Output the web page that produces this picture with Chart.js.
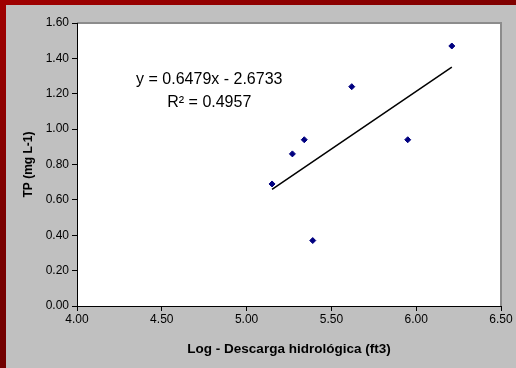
<!DOCTYPE html>
<html>
<head>
<meta charset="utf-8">
<script src="https://cdn.jsdelivr.net/npm/chart.js@4/dist/chart.umd.min.js"></script>
<style>
  html, body { margin: 0; padding: 0; }
  body {
    width: 516px; height: 368px; overflow: hidden;
    background: linear-gradient(160deg, #a00000 0%, #7a0000 40%, #680000 100%);
  }
  #painel {
    position: absolute; left: 6px; top: 5px;
    width: 510px; height: 363px;
    background: #c0c0c0;
  }
</style>
</head>
<body>
<div id="painel"><canvas id="grafico-tp"></canvas></div>
<script>
// dados
const descargaLog = [5.15, 5.27, 5.34, 5.39, 5.62, 5.95, 6.21];
const tpValores = [0.69, 0.86, 0.94, 0.37, 1.24, 0.94, 1.47];

// linha de tendência (pontos extremos)
const tendenciaX = [5.15, 6.21];
const tendenciaY = [0.66, 1.35];

// eixos
const ticksX = [4.0, 4.5, 5.0, 5.5, 6.0, 6.5];
const ticksY = [0.0, 0.2, 0.4, 0.6, 0.8, 1.0, 1.2, 1.4, 1.6];

const tituloX = 'Log - Descarga hidrológica (ft3)';
const tituloY = 'TP (mg L-1)';
const equacao = 'y = 0.6479x - 2.6733';
const r2Texto = 'R² = 0.4957';

const fonte = '"Liberation Sans", Arial, sans-serif';

// fundo branco da área do gráfico + borda cinza em cima/direita
const fundoArea = {
    id: 'fundoArea',
    beforeDraw(chart) {
        const { ctx, chartArea: a } = chart;
        ctx.save();
        ctx.fillStyle = '#ffffff';
        ctx.fillRect(a.left, a.top, a.right - a.left, a.bottom - a.top);
        ctx.strokeStyle = '#8c8c8c';
        ctx.lineWidth = 2;
        ctx.beginPath();
        ctx.moveTo(a.left, a.top);
        ctx.lineTo(a.right, a.top);
        ctx.lineTo(a.right, a.bottom);
        ctx.stroke();
        ctx.restore();
    }
};

// texto da equação
const textoEquacao = {
    id: 'textoEquacao',
    afterDatasetsDraw(chart) {
        const { ctx, scales } = chart;
        const x = scales.x.getPixelForValue(4.78);
        ctx.save();
        ctx.fillStyle = '#000';
        ctx.font = '16px ' + fonte;
        ctx.textAlign = 'center';
        ctx.textBaseline = 'middle';
        ctx.fillText(equacao, x, scales.y.getPixelForValue(1.28));
        ctx.fillText(r2Texto, x, scales.y.getPixelForValue(1.15));
        ctx.restore();
    }
};

const ctx = document.getElementById('grafico-tp').getContext('2d');

new Chart(ctx, {
    type: 'scatter',
    data: {
        datasets: [{
            data: descargaLog.map((x, i) => ({ x: x, y: tpValores[i] })),
            pointStyle: 'rectRot',
            pointRadius: 3,
            backgroundColor: '#000080',
            borderColor: '#000080',
            borderWidth: 1
        }, {
            type: 'line',
            data: tendenciaX.map((x, i) => ({ x: x, y: tendenciaY[i] })),
            borderColor: '#000000',
            borderWidth: 1.5,
            pointRadius: 0,
            fill: false
        }]
    },
    options: {
        responsive: true,
        maintainAspectRatio: false,
        animation: false,
        layout: { padding: { left: 0, right: 15, top: 18, bottom: 0 } },
        plugins: {
            legend: { display: false },
            tooltip: { enabled: false }
        },
        scales: {
            x: {
                type: 'linear',
                min: 4, max: 6.5,
                afterBuildTicks: (s) => { s.ticks = ticksX.map(v => ({ value: v })); },
                afterFit: (s) => { s.height = 62; },
                border: { color: '#000', width: 1 },
                grid: { drawOnChartArea: false, drawTicks: true, tickLength: 5, color: '#000' },
                ticks: {
                    padding: 1,
                    color: '#000',
                    font: { family: fonte, size: 12 },
                    callback: (v) => Number(v).toFixed(2)
                },
                title: {
                    display: true,
                    text: tituloX,
                    color: '#000',
                    font: { family: fonte, size: 13.5, weight: 'bold' },
                    padding: { top: 0, bottom: 11 }
                }
            },
            y: {
                type: 'linear',
                min: 0, max: 1.6,
                afterBuildTicks: (s) => { s.ticks = ticksY.map(v => ({ value: v })); },
                afterFit: (s) => { s.width = 71; },
                border: { color: '#000', width: 1 },
                grid: { drawOnChartArea: false, drawTicks: true, tickLength: 5, color: '#000' },
                ticks: {
                    padding: 3,
                    color: '#000',
                    font: { family: fonte, size: 12 },
                    callback: (v) => Number(v).toFixed(2)
                },
                title: {
                    display: true,
                    text: tituloY,
                    color: '#000',
                    font: { family: fonte, size: 12, weight: 'bold' },
                    padding: { top: 15, bottom: 0 }
                }
            }
        }
    },
    plugins: [fundoArea, textoEquacao]
});
</script>
</body>
</html>
